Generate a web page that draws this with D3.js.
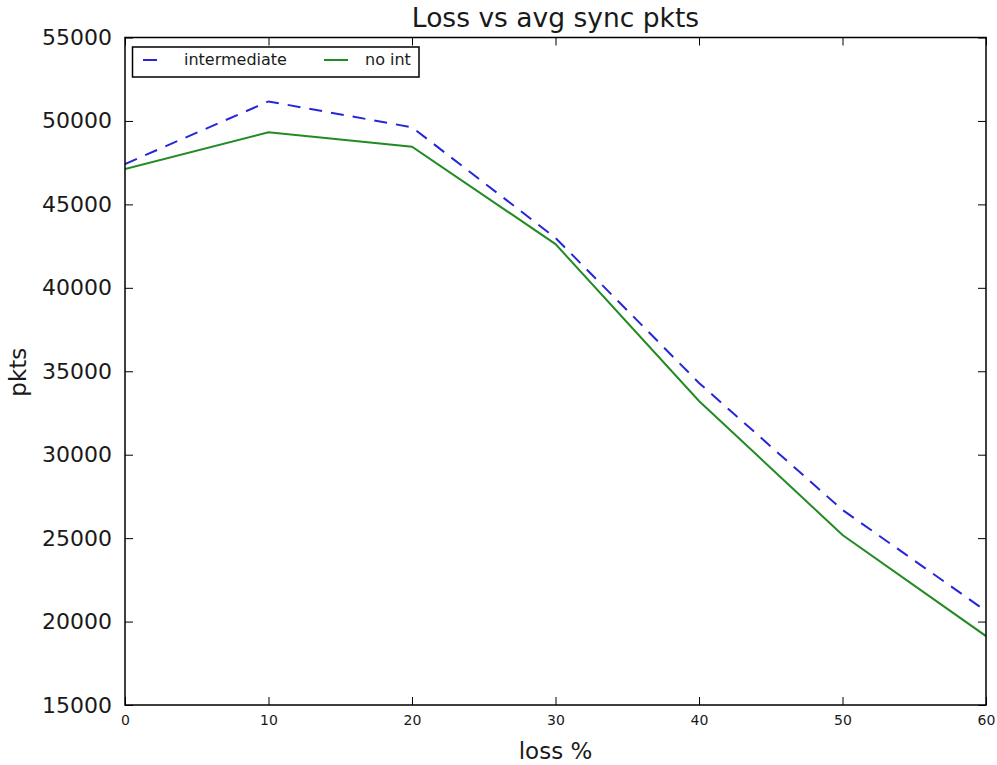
<!DOCTYPE html>
<html>
<head>
<meta charset="utf-8">
<script src="https://cdn.jsdelivr.net/npm/d3@7"></script>
<style>
  body { margin: 0; background: #fff; }
  svg { display: block; font-family: "DejaVu Sans", sans-serif; }
</style>
</head>
<body>
<svg id="chart" width="997" height="765"></svg>
<script>
// Loss percentage on the x axis
const lossPct = [0, 10, 20, 30, 40, 50, 60];
// Average sync packets per configuration
const intermediate = [47420, 51170, 49620, 42990, 34300, 26690, 20630];
const noInt = [47120, 49320, 48460, 42620, 33220, 25190, 19130];

const xTicks = [0, 10, 20, 30, 40, 50, 60];
const yTicks = [15000, 20000, 25000, 30000, 35000, 40000, 45000, 50000, 55000];

const series = [
  { name: "intermediate", values: intermediate, color: "#2626d9", dash: "13,9" },
  { name: "no int", values: noInt, color: "#238b23", dash: null }
];

const svg = d3.select("#chart");
const m = { left: 125, right: 986, top: 37.5, bottom: 705 };

const x = d3.scaleLinear().domain([0, 60]).range([m.left, m.right]);
const y = d3.scaleLinear().domain([15000, 55000]).range([m.bottom, m.top]);

// Lines
const line = d3.line()
  .x((d, i) => x(lossPct[i]))
  .y(d => y(d));

const plot = svg.append("g");
plot.append("clipPath").attr("id", "clip")
  .append("rect").attr("x", m.left).attr("y", m.top)
  .attr("width", m.right - m.left).attr("height", m.bottom - m.top);

series.forEach(s => {
  plot.append("path")
    .datum(s.values)
    .attr("clip-path", "url(#clip)")
    .attr("fill", "none")
    .attr("stroke", s.color)
    .attr("stroke-width", 2)
    .attr("stroke-dasharray", s.dash)
    .attr("d", line);
});

// Axes with inward ticks on all four sides
const tickLen = 8;
const axisBottom = d3.axisBottom(x).tickValues(xTicks).tickSizeInner(-tickLen).tickSizeOuter(0).tickPadding(10);
const axisTop = d3.axisTop(x).tickValues(xTicks).tickSizeInner(-tickLen).tickSizeOuter(0).tickFormat("");
const axisLeft = d3.axisLeft(y).tickValues(yTicks).tickSizeInner(-tickLen).tickSizeOuter(0).tickPadding(13).tickFormat(d3.format("d"));
const axisRight = d3.axisRight(y).tickValues(yTicks).tickSizeInner(-tickLen).tickSizeOuter(0).tickFormat("");

function styleAxis(g) {
  g.select(".domain").remove();
  g.selectAll(".tick line").attr("stroke", "#000").attr("stroke-width", 1);
  g.selectAll(".tick text").attr("fill", "#1a1a1a").attr("font-family", "DejaVu Sans, sans-serif");
}

svg.append("g").attr("transform", `translate(0,${m.bottom})`).call(axisBottom).call(styleAxis)
  .selectAll(".tick text").attr("font-size", 14);
svg.append("g").attr("transform", `translate(0,${m.top})`).call(axisTop).call(styleAxis);
svg.append("g").attr("transform", `translate(${m.left},0)`).call(axisLeft).call(styleAxis)
  .selectAll(".tick text").attr("font-size", 22);
svg.append("g").attr("transform", `translate(${m.right},0)`).call(axisRight).call(styleAxis);

// Frame
svg.append("rect")
  .attr("x", m.left).attr("y", m.top)
  .attr("width", m.right - m.left).attr("height", m.bottom - m.top)
  .attr("fill", "none").attr("stroke", "#000").attr("stroke-width", 1.5);

// Title and axis labels
svg.append("text").attr("x", (m.left + m.right) / 2).attr("y", 27)
  .attr("text-anchor", "middle").attr("font-size", 26.5).attr("fill", "#1a1a1a").text("Loss vs avg sync pkts");
svg.append("text").attr("x", (m.left + m.right) / 2).attr("y", 759)
  .attr("text-anchor", "middle").attr("font-size", 23).attr("fill", "#1a1a1a").text("loss %");
svg.append("text")
  .attr("transform", `translate(26,${(m.top + m.bottom) / 2 + 1}) rotate(-90)`)
  .attr("text-anchor", "middle").attr("font-size", 23).attr("fill", "#1a1a1a").text("pkts");

// Legend
const lg = svg.append("g");
lg.append("rect").attr("x", 132.5).attr("y", 47).attr("width", 286.5).attr("height", 30)
  .attr("fill", "#fff").attr("stroke", "#000").attr("stroke-width", 1.5);
const legendItems = [
  { s: series[0], x0: 143, x1: 172, tx: 184 },
  { s: series[1], x0: 324, x1: 348, tx: 365 }
];
legendItems.forEach(it => {
  lg.append("line")
    .attr("x1", it.x0).attr("x2", it.x1).attr("y1", 60).attr("y2", 60)
    .attr("stroke", it.s.color).attr("stroke-width", 2)
    .attr("stroke-dasharray", it.s.dash ? "14,30" : null);
  lg.append("text").attr("x", it.tx).attr("y", 65).attr("font-size", 16).attr("fill", "#1a1a1a").text(it.s.name);
});
</script>
</body>
</html>
